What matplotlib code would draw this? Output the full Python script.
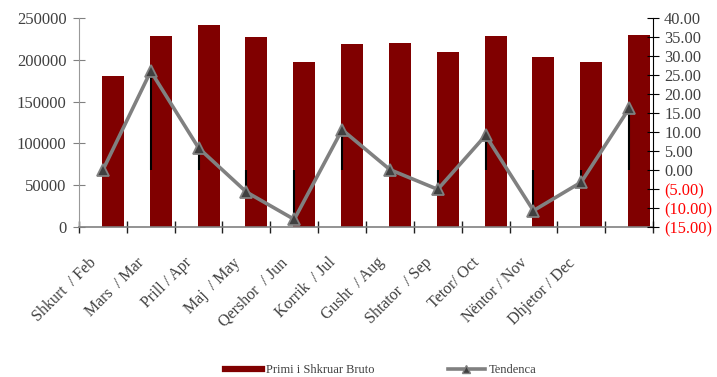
import numpy as np
import matplotlib
matplotlib.use("Agg")
import matplotlib.pyplot as plt
import matplotlib.transforms as mtransforms
from matplotlib.lines import Line2D
from matplotlib.ticker import MultipleLocator, FuncFormatter

plt.rcParams['font.family'] = ['Liberation Serif', 'DejaVu Serif']

# data
months = ['Shkurt  / Feb', 'Mars  / Mar', 'Prill / Apr', 'Maj  / May', 'Qershor  / Jun',
          'Korrik  / Jul', 'Gusht  / Aug', 'Shtator  / Sep', 'Tetor/ Oct', 'Nëntor / Nov',
          'Dhjetor / Dec', '']
gross_premium = [180300, 228100, 241600, 227700, 197800, 218900,
                 219700, 209000, 228100, 203700, 197800, 230000]
trend = [0.0, 26.0, 5.8, -5.8, -13.0, 10.6, 0.1, -5.1, 9.1, -10.7, -3.2, 16.2]

bar_color = '#800000'
line_color = '#808080'
text_color = '#404040'

x = np.arange(len(gross_premium))

fig = plt.figure(figsize=(7.17, 3.77), dpi=100)
ax = fig.add_axes([79 / 717, 1 - 227 / 377, (653 - 79) / 717, (227 - 18) / 377])

ax.bar(x + 0.21, gross_premium, width=0.46, color=bar_color, edgecolor='none', zorder=2)
ax.set_xlim(-0.5, len(x) - 0.5)
ax.set_ylim(0, 250000)
ax.yaxis.set_major_locator(MultipleLocator(50000))

# category boundaries get the tick marks, centers get the labels
ax.set_xticks(np.arange(len(x) + 1) - 0.5)
ax.set_xticklabels([])
ax.set_xticks(x, minor=True)
ax.set_xticklabels(months, minor=True, rotation=45, ha='right', va='top',
                   fontsize=11.5, color=text_color)
ax.tick_params(axis='x', which='minor', length=0, pad=20)
ax.tick_params(axis='x', which='major', direction='inout', length=9, width=1, color='#202020')
shift = mtransforms.ScaledTranslation(-3 / 100, 0, fig.dpi_scale_trans)
for lab in ax.get_xticklabels(minor=True):
    lab.set_transform(lab.get_transform() + shift)

ax.tick_params(axis='y', direction='inout', length=8, color='#808080',
               labelsize=12, labelcolor=text_color, pad=5)
for s in ['top', 'right']:
    ax.spines[s].set_visible(False)
ax.spines['left'].set_color('#999999')
ax.spines['bottom'].set_color('#808080')
ax.spines['bottom'].set_linewidth(1.2)
ax.spines['bottom'].set_zorder(3)

ax2 = ax.twinx()
ax2.set_ylim(-15, 40)
ax2.yaxis.set_major_locator(MultipleLocator(5))
ax2.yaxis.set_major_formatter(FuncFormatter(
    lambda v, p: '({:.2f})'.format(abs(v)) if v < -1e-9 else '{:.2f}'.format(abs(v))))
ax2.tick_params(axis='y', direction='inout', length=8, color='black',
                labelsize=11.8, labelcolor=text_color, pad=4)
for lab, v in zip(ax2.get_yticklabels(), ax2.get_yticks()):
    if v < 0:
        lab.set_color('red')
for s in ['top', 'left', 'bottom']:
    ax2.spines[s].set_visible(False)
ax2.spines['right'].set_color('black')

ax2.vlines(x, 0, trend, color='black', lw=1.5, zorder=2)
ax2.plot(x, trend, color=line_color, lw=2.6, marker='^', markersize=8,
         markerfacecolor='#404040', markeredgecolor=line_color, markeredgewidth=1.3, zorder=3)

handles = [Line2D([], [], color=bar_color, lw=4.5),
           Line2D([], [], color=line_color, lw=2.6, marker='^', markersize=6,
                  markerfacecolor='#404040', markeredgecolor=line_color)]
fig.legend(handles, ['Primi i Shkruar Bruto', 'Tendenca'], loc='center',
           bbox_to_anchor=(381 / 717, 1 - 370 / 377), ncol=2, frameon=False,
           fontsize=9, handlelength=2.9, handletextpad=0.35, columnspacing=5.9,
           labelcolor=text_color)

fig.savefig('out.png', dpi=100)
